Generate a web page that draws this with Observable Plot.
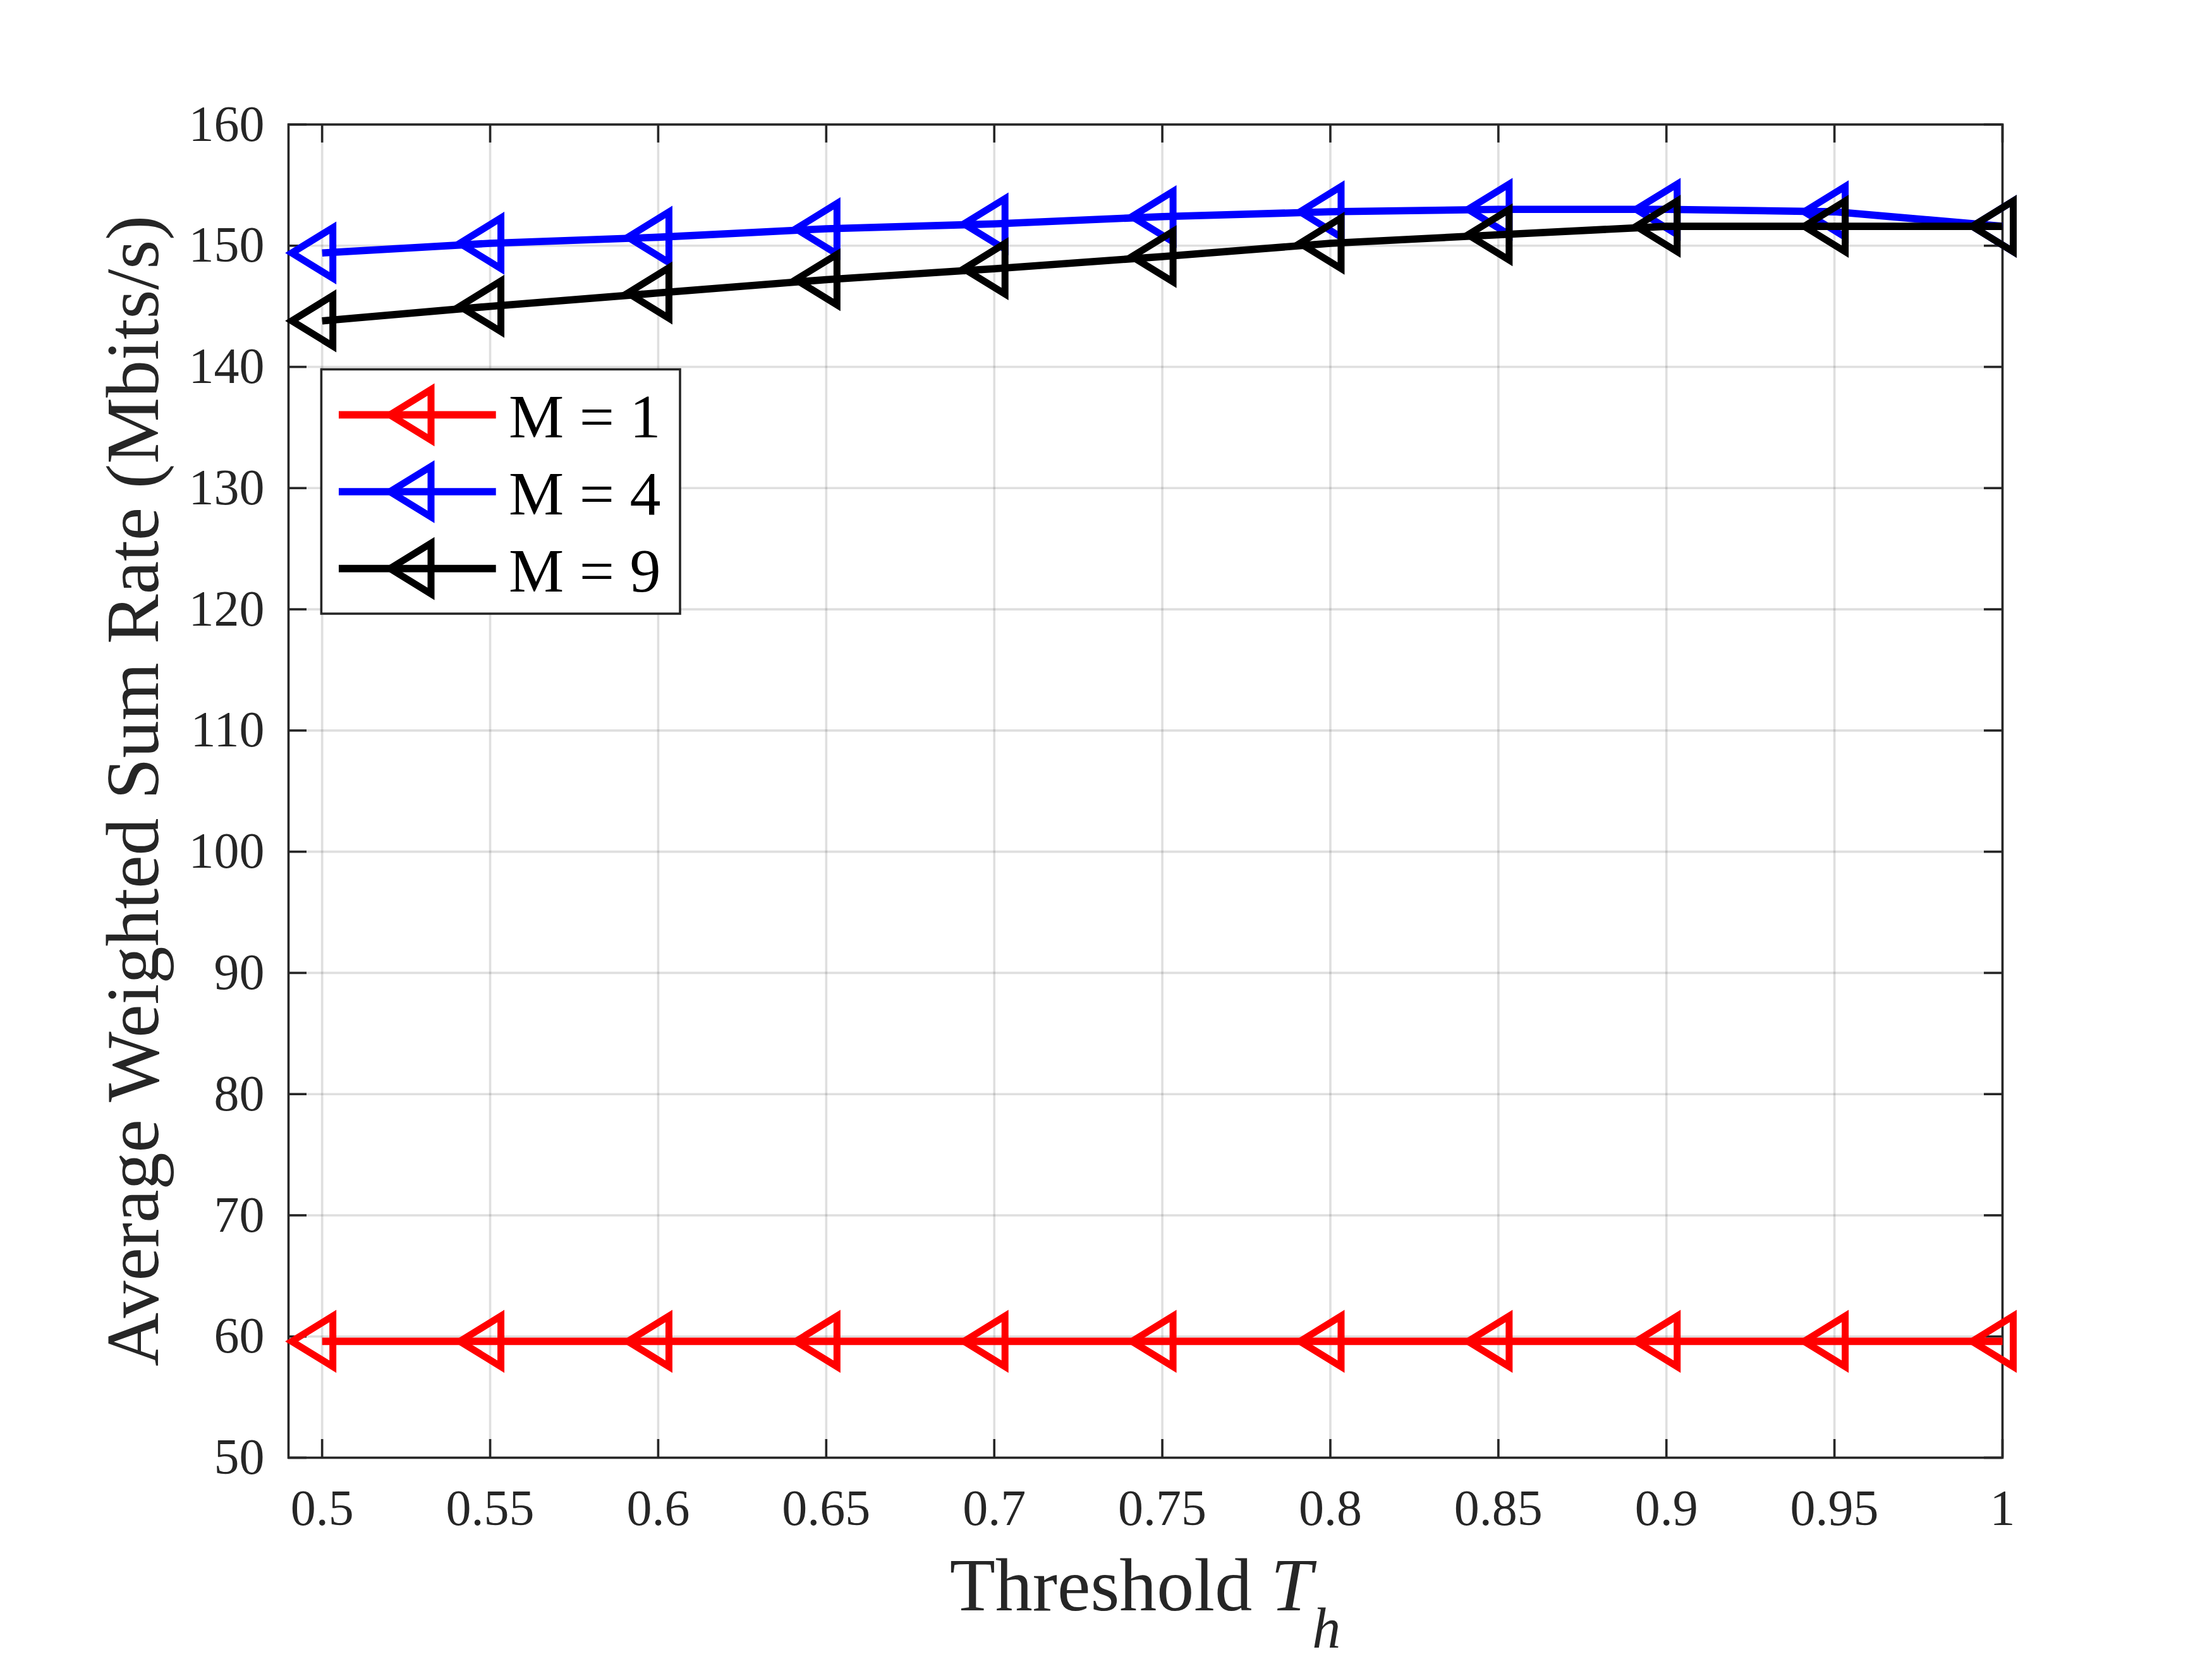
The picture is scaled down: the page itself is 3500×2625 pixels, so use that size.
<!DOCTYPE html>
<html><head><meta charset="utf-8">
<script src="https://cdn.jsdelivr.net/npm/d3@7"></script>
<script src="https://cdn.jsdelivr.net/npm/@observablehq/plot@0.6"></script>
<style>html,body{margin:0;padding:0;background:#fff;} svg{display:block}</style>
</head><body><div id="chart"></div>
<script>
// ---- data ----
const thresholds = [0.5, 0.55, 0.6, 0.65, 0.7, 0.75, 0.8, 0.85, 0.9, 0.95, 1.0];
const rateM1 = [59.6, 59.6, 59.6, 59.6, 59.6, 59.6, 59.6, 59.6, 59.6, 59.6, 59.6];
const rateM4 = [149.4, 150.2, 150.7, 151.4, 151.8, 152.4, 152.8, 153.0, 153.0, 152.8, 151.6];
const rateM9 = [143.8, 145.0, 146.1, 147.2, 148.1, 149.1, 150.2, 150.9, 151.6, 151.6, 151.6];
const seriesNames = ["M = 1", "M = 4", "M = 9"];
const seriesColors = ["#ff0000", "#0000ff", "#000000"];
const xTicks = [0.5, 0.55, 0.6, 0.65, 0.7, 0.75, 0.8, 0.85, 0.9, 0.95, 1];
const yTicks = [50, 60, 70, 80, 90, 100, 110, 120, 130, 140, 150, 160];
const xLabelText = "Threshold ", xLabelVar = "T", xLabelSub = "h";
const yLabelText = "Average Weighted Sum Rate (Mbits/s)";

const seriesValues = [rateM1, rateM4, rateM9];
const seriesData = seriesValues.map((arr, i) => arr.map((v, j) => ({series: seriesNames[i], x: thresholds[j], y: v})));

// ---- layout ----
const W = 3500, H = 2625;
const mL = 456, mR = 332, mT = 196.5, mB = 319;
const innerW = W - mL - mR, innerH = H - mT - mB;
const axisColor = "#262626";
const axisW = 3.6, tickLen = 29;
const fontFam = "'Liberation Serif', 'Times New Roman', Times, serif";

// left-pointing triangle marker (centroid-centered)
const leftTri = {
  draw(ctx, size) {
    const s = Math.sqrt(size / Math.PI) / 10;
    ctx.moveTo(-48 * s, 0);
    ctx.lineTo(17 * s, -40 * s);
    ctx.lineTo(17 * s, 40 * s);
    ctx.closePath();
  }
};

const seriesMarks = seriesData.flatMap((d, i) => [
  Plot.line(d, {x: "x", y: "y", stroke: seriesColors[i], strokeWidth: 11.6, strokeLinecap: "butt", strokeLinejoin: "round"}),
  Plot.dot(d, {x: "x", y: "y", r: 10, symbol: leftTri, stroke: seriesColors[i], fill: "none", strokeWidth: 11})
]);

const plot = Plot.plot({
  width: W, height: H,
  marginLeft: mL, marginRight: mR, marginTop: mT, marginBottom: mB,
  style: {fontFamily: fontFam, background: "#fff", color: axisColor},
  x: {domain: [0.49, 1.0]},
  y: {domain: [50, 160]},
  marks: [
    Plot.gridX(xTicks, {stroke: axisColor, strokeOpacity: 0.15, strokeWidth: 3.6}),
    Plot.gridY(yTicks, {stroke: axisColor, strokeOpacity: 0.15, strokeWidth: 3.6}),
    Plot.ruleX(xTicks, {x: d => d, insetTop: innerH - tickLen, stroke: axisColor, strokeWidth: axisW}),
    Plot.ruleX(xTicks, {x: d => d, insetBottom: innerH - tickLen, stroke: axisColor, strokeWidth: axisW}),
    Plot.ruleY(yTicks, {y: d => d, insetRight: innerW - tickLen, stroke: axisColor, strokeWidth: axisW}),
    Plot.ruleY(yTicks, {y: d => d, insetLeft: innerW - tickLen, stroke: axisColor, strokeWidth: axisW}),
    Plot.frame({stroke: axisColor, strokeWidth: axisW}),
    Plot.axisX(xTicks, {tickSize: 0, tickPadding: 50, fontSize: 80, label: null, tickFormat: d => String(+d.toFixed(2))}),
    Plot.axisY(yTicks, {tickSize: 0, tickPadding: 38, fontSize: 80, label: null}),
    ...seriesMarks
  ]
});

document.getElementById("chart").appendChild(plot);

// ---- labels & legend ----
const svg = d3.select(plot);
const xl = svg.append("text")
  .attr("x", mL + innerW / 2).attr("y", 2548)
  .attr("text-anchor", "middle").attr("font-size", 118)
  .attr("font-family", fontFam).attr("fill", axisColor);
xl.append("tspan").text(xLabelText);
xl.append("tspan").attr("font-style", "italic").text(xLabelVar);
xl.append("tspan").attr("font-style", "italic").attr("font-size", 90).attr("dy", 59).text(xLabelSub);

svg.append("text")
  .attr("transform", `translate(250, ${mT + innerH / 2}) rotate(-90)`)
  .attr("text-anchor", "middle").attr("font-size", 118)
  .attr("font-family", fontFam).attr("fill", axisColor)
  .text(yLabelText);

const lg = svg.append("g");
lg.append("rect").attr("x", 508.4).attr("y", 584.4).attr("width", 567.6).attr("height", 386.6)
  .attr("fill", "#fff").attr("stroke", axisColor).attr("stroke-width", axisW);
const triPath = d3.symbol(leftTri, 100 * Math.PI)();
seriesNames.forEach((name, i) => {
  const ly = 656.4 + 121.6 * i;
  lg.append("line").attr("x1", 536).attr("x2", 784.7).attr("y1", ly).attr("y2", ly)
    .attr("stroke", seriesColors[i]).attr("stroke-width", 11.6);
  lg.append("path").attr("d", triPath).attr("transform", `translate(665, ${ly})`)
    .attr("fill", "none").attr("stroke", seriesColors[i]).attr("stroke-width", 11);
  lg.append("text").attr("x", 805).attr("y", ly + 36).attr("font-size", 98)
    .attr("text-anchor", "start")
    .attr("font-family", fontFam).attr("fill", "#000").text(name);
});
</script>
</body></html>
